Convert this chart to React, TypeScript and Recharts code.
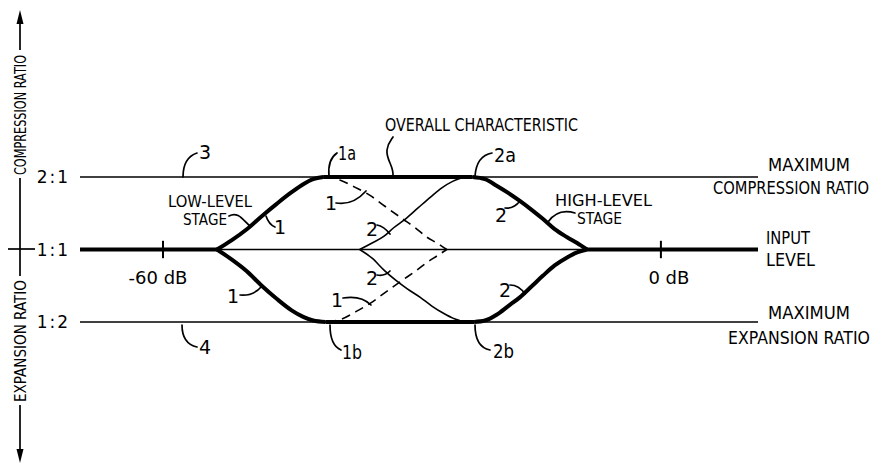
import React from 'react';
import { LineChart, Line, XAxis, YAxis, ReferenceLine } from 'recharts';

const FONT = '"DejaVu Sans", "Liberation Sans", sans-serif';

// y axis: log2 of ratio (2:1 -> 1, 1:1 -> 0, 1:2 -> -1)
const ratioTicks = [1, 0, -1];
const ratioLabels = ['2:1', '1:1', '1:2'];
// x axis: input level in dB
const dbTicks = [-60, 0];
const dbLabels = ['-60 dB', '0 dB'];

// thick input-level baseline parts
const baseLeft: [number, number][] = [[-70, 0], [-53.5, 0]];
const baseRight: [number, number][] = [[-8.9, 0], [11.7, 0]];

// low-level stage (curve 1)
const lowUpper: [number, number][] = [
  [-53.5, 0], [-51.7, 0.13], [-49.9, 0.28], [-48.1, 0.46], [-46.3, 0.63],
  [-44.5, 0.79], [-43.1, 0.9], [-41.9, 0.97], [-40.7, 1],
];
const lowLower: [number, number][] = [
  [-53.5, 0], [-51.7, -0.14], [-49.9, -0.3], [-48.1, -0.5], [-46.3, -0.68],
  [-44.5, -0.84], [-43.1, -0.93], [-41.9, -0.98], [-40.4, -1],
];
// low-level stage continuation (dashed, curve 1)
const dashUpper: [number, number][] = [
  [-40.5, 1], [-38.7, 0.96], [-36.9, 0.86], [-35.1, 0.75], [-33.3, 0.6],
  [-31.1, 0.42], [-29.6, 0.3], [-28.2, 0.17], [-27.0, 0.09], [-25.8, 0],
];
const dashLower: [number, number][] = [
  [-40.2, -1], [-38.5, -0.96], [-36.8, -0.86], [-35.0, -0.74], [-33.2, -0.59],
  [-31.1, -0.42], [-29.6, -0.3], [-28.2, -0.18], [-27.0, -0.09], [-25.8, 0],
];
// high-level stage (curve 2), thin part
const highUpperThin: [number, number][] = [
  [-36.3, 0], [-34.8, 0.09], [-33.4, 0.18], [-32.2, 0.3], [-30.8, 0.42],
  [-29.3, 0.57], [-27.8, 0.72], [-26.4, 0.85], [-25.1, 0.94], [-23.9, 0.99], [-22.7, 1],
];
const highLowerThin: [number, number][] = [
  [-36.3, 0], [-34.8, -0.12], [-33.4, -0.28], [-32.0, -0.42], [-30.6, -0.54],
  [-29.0, -0.66], [-27.6, -0.78], [-26.2, -0.88], [-25.0, -0.95], [-23.9, -0.99], [-22.5, -1],
];
// high-level stage (curve 2), thick part
const highUpper: [number, number][] = [
  [-22.7, 1], [-21.2, 0.97], [-19.8, 0.88], [-18.4, 0.78], [-17.0, 0.67],
  [-15.5, 0.54], [-14.2, 0.42], [-12.8, 0.28], [-11.3, 0.17], [-10.1, 0.09], [-8.9, 0],
];
const highLower: [number, number][] = [
  [-22.5, -1], [-21.2, -0.98], [-19.8, -0.9], [-18.4, -0.78], [-17.0, -0.66],
  [-15.5, -0.5], [-14.2, -0.36], [-12.8, -0.22], [-11.3, -0.11], [-10.1, -0.04], [-8.9, 0],
];
// overall characteristic plateaus
const overallTop: [number, number][] = [[-40.7, 1], [-22.7, 1]];
const overallBottom: [number, number][] = [[-40.4, -1], [-22.5, -1]];

const pts = (a: [number, number][]) => a.map(([x, y]) => ({ x, y }));

const thick = { stroke: '#000', strokeWidth: 4, dot: false, activeDot: false, isAnimationActive: false } as const;
const thin = { stroke: '#000', strokeWidth: 1.6, dot: false, activeDot: false, isAnimationActive: false } as const;

const T = (p: { x: number; y: number; children: React.ReactNode; anchor?: string; size?: number; len?: number }) => (
  <text
    x={p.x}
    y={p.y}
    textAnchor={(p.anchor as any) || 'start'}
    fontSize={p.size || 17}
    fontFamily={FONT}
    fill="#000"
    {...(p.len ? { textLength: p.len, lengthAdjust: 'spacingAndGlyphs' } : {})}
  >
    {p.children}
  </text>
);

// horizontally condensed text (scaled group) for labels near the right edge
const N = (p: { x: number; y: number; children: React.ReactNode; sx: number; len: number }) => (
  <g transform={`translate(${p.x},${p.y}) scale(${p.sx},1)`}>
    <text x={0} y={0} fontSize={17} fontFamily={FONT} fill="#000" textLength={p.len / p.sx} lengthAdjust="spacingAndGlyphs">
      {p.children}
    </text>
  </g>
);

const D = (p: { x: number; y: number; children: React.ReactNode; len?: number }) => (
  <T x={p.x} y={p.y} size={19} len={p.len}>{p.children}</T>
);

const leader = { fill: 'none', stroke: '#000', strokeWidth: 1.7, strokeLinecap: 'round' } as const;

export default function App() {
  return (
    <div style={{ position: 'absolute', left: 0, top: 0, width: 878, height: 469, background: '#fff' }}>
      <LineChart width={878} height={469} margin={{ top: 32, right: 120, bottom: 2, left: 0 }}>
        <XAxis dataKey="x" type="number" domain={[-70, 11.7]} allowDataOverflow hide />
        <YAxis
          type="number"
          domain={[-3, 3]}
          ticks={ratioTicks}
          tickFormatter={(v: number) => ratioLabels[ratioTicks.indexOf(v)]}
          width={80}
          axisLine={false}
          tickLine={false}
          tickSize={0}
          tickMargin={10}
          tick={{ fill: '#000', fontSize: 17, fontFamily: FONT, letterSpacing: 2 }}
        />
        {ratioTicks.map((r) => (
          <ReferenceLine key={r} y={r} stroke="#000" strokeWidth={1.5} />
        ))}
        {dbTicks.map((d, i) => (
          <ReferenceLine
            key={d}
            segment={[{ x: d, y: -0.12 }, { x: d, y: 0.12 }]}
            stroke="#000"
            strokeWidth={2}
            ifOverflow="visible"
            label={{ value: dbLabels[i], position: 'bottom', offset: 13, fill: '#000', fontSize: 18, fontFamily: FONT, dx: i === 0 ? -5 : 8 }}
          />
        ))}
        <Line data={pts(baseLeft)} dataKey="y" type="linear" {...thick} />
        <Line data={pts(baseRight)} dataKey="y" type="linear" {...thick} />
        <Line data={pts(overallTop)} dataKey="y" type="linear" {...thick} />
        <Line data={pts(overallBottom)} dataKey="y" type="linear" {...thick} />
        <Line data={pts(lowUpper)} dataKey="y" type="monotone" {...thick} />
        <Line data={pts(lowLower)} dataKey="y" type="monotone" {...thick} />
        <Line data={pts(highUpper)} dataKey="y" type="monotone" {...thick} />
        <Line data={pts(highLower)} dataKey="y" type="monotone" {...thick} />
        <Line data={pts(highUpperThin)} dataKey="y" type="monotone" {...thin} />
        <Line data={pts(highLowerThin)} dataKey="y" type="monotone" {...thin} />
        <Line data={pts(dashUpper)} dataKey="y" type="monotone" {...thin} strokeDasharray="9 6" />
        <Line data={pts(dashLower)} dataKey="y" type="monotone" {...thin} strokeDasharray="9 6" />
      </LineChart>
      <svg width={878} height={469} style={{ position: 'absolute', left: 0, top: 0, pointerEvents: 'none' }}>
        {/* left vertical axis label */}
        <line x1={20} y1={22} x2={20} y2={50} stroke="#000" strokeWidth={1.7} />
        <polygon points="20,10 16.5,24 23.5,24" fill="#000" />
        <text transform="rotate(-90 20 115)" x={20} y={121} textAnchor="middle" fontSize={16} fontFamily={FONT} fill="#000" textLength={120} lengthAdjust="spacingAndGlyphs">COMPRESSION  RATIO</text>
        <line x1={20} y1={178} x2={20} y2={276} stroke="#000" strokeWidth={1.7} />
        <line x1={8} y1={249} x2={35} y2={249} stroke="#000" strokeWidth={1.7} />
        <text transform="rotate(-90 20 341)" x={20} y={347} textAnchor="middle" fontSize={16} fontFamily={FONT} fill="#000" textLength={122} lengthAdjust="spacingAndGlyphs">EXPANSION  RATIO</text>
        <line x1={20} y1={405} x2={20} y2={450} stroke="#000" strokeWidth={1.7} />
        <polygon points="20,463 16.5,449 23.5,449" fill="#000" />

        {/* right labels */}
        <T x={768} y={171} len={82}>MAXIMUM</T>
        <N x={713} y={194} sx={0.8} len={156}>COMPRESSION  RATIO</N>
        <T x={766} y={244} len={44}>INPUT</T>
        <T x={766} y={266} len={49}>LEVEL</T>
        <T x={768} y={319} len={82}>MAXIMUM</T>
        <N x={728} y={344} sx={0.84} len={142}>EXPANSION  RATIO</N>

        {/* overall characteristic */}
        <T x={385} y={131} len={193}>OVERALL CHARACTERISTIC</T>
        <path d="M393,176 C394,166 386,160 387,150 C388,143 391,140 393,137" {...leader} />

        {/* 3 and 4 */}
        <D x={199} y={159}>3</D>
        <path d="M183,177 C183,164 188,156 197,153" {...leader} />
        <D x={199} y={354}>4</D>
        <path d="M182,325 C182,338 188,345 197,347" {...leader} />

        {/* low level stage */}
        <T x={168} y={207} size={15.5} len={84}>LOW-LEVEL</T>
        <T x={183} y={225} size={15.5} len={44}>STAGE</T>
        <path d="M229,216 C238,211 243,220 250,226" {...leader} />
        <D x={274} y={234}>1</D>
        <path d="M266,216 C268,222 270,225 275,227" {...leader} />
        <D x={227} y={303}>1</D>
        <path d="M240,295 C250,296 257,292 262,286" {...leader} />
        <D x={338} y={160} len={18}>1a</D>
        <path d="M329,176 C328,165 331,157 337,153" {...leader} />
        <D x={342} y={359} len={20}>1b</D>
        <path d="M330,325 C330,338 334,347 341,350" {...leader} />
        <D x={325} y={210}>1</D>
        <path d="M336,203 C348,205 358,200 366,191" {...leader} />
        <D x={331} y={307}>1</D>
        <path d="M343,298 C355,296 364,298 371,305" {...leader} />

        {/* high level stage */}
        <D x={366} y={236}>2</D>
        <path d="M377,225 C382,226 386,229 390,234" {...leader} />
        <D x={366} y={285}>2</D>
        <path d="M377,275 C382,276 386,275 390,271" {...leader} />
        <D x={494} y={162} len={22}>2a</D>
        <path d="M475,176 C476,163 481,155 492,153" {...leader} />
        <D x={493} y={358} len={21}>2b</D>
        <path d="M475,325 C475,339 480,348 490,350" {...leader} />
        <D x={495} y={222}>2</D>
        <path d="M505,208 C512,209 516,206 520,201" {...leader} />
        <D x={499} y={297}>2</D>
        <path d="M510,285 C516,285 521,288 525,294" {...leader} />
        <T x={555} y={206} size={15.5} len={97}>HIGH-LEVEL</T>
        <T x={577} y={224} size={15.5} len={45}>STAGE</T>
        <path d="M548,222 C555,212 565,210 575,213" {...leader} />
      </svg>
    </div>
  );
}
